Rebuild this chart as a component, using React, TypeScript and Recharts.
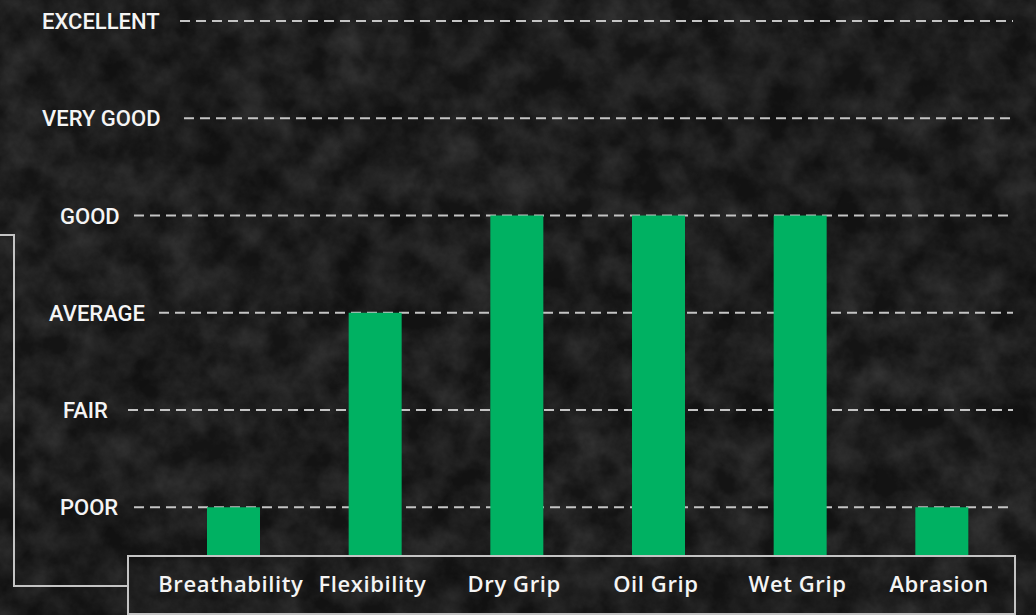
import { BarChart, Bar, XAxis, YAxis, CartesianGrid } from 'recharts';

const CATEGORIES = ['Breathability', 'Flexibility', 'Dry Grip', 'Oil Grip', 'Wet Grip', 'Abrasion'];
const RATINGS = [1, 3, 4, 4, 4, 1];
const LEVEL_LABELS = ['POOR', 'FAIR', 'AVERAGE', 'GOOD', 'VERY GOOD', 'EXCELLENT'];
const LEVEL_TICKS = [1, 2, 3, 4, 5, 6];

const data = CATEGORIES.map((name, i) => ({ name, rating: RATINGS[i] }));

// where each level label starts, and where its dashed line begins
const LABEL_X: Record<string, number> = {
  POOR: 60,
  FAIR: 63,
  AVERAGE: 49,
  GOOD: 60,
  'VERY GOOD': 42,
  EXCELLENT: 42,
};
const LINE_START: Record<string, number> = {
  POOR: 134,
  FAIR: 128,
  AVERAGE: 159,
  GOOD: 134,
  'VERY GOOD': 184,
  EXCELLENT: 180,
};

const W = 1036;
const H = 615;
const GREEN = '#00b162';
const LINE = '#c4c4c4';

interface TickProps {
  x?: number;
  y?: number;
  payload?: { value: number | string };
}

function LevelTick({ y, payload }: TickProps) {
  if (y == null || !payload) return null;
  const label = LEVEL_LABELS[Number(payload.value) - 1];
  return (
    <text
      x={LABEL_X[label]}
      y={y + 8}
      fill="#f4f4f4"
      fontFamily="Roboto, sans-serif"
      fontWeight={500}
      fontSize={22}
      textAnchor="start"
    >
      {label}
    </text>
  );
}

function CategoryTick({ x, y, payload }: TickProps) {
  if (x == null || y == null || !payload) return null;
  return (
    <text
      x={x - 3}
      y={y + 28}
      fill="#f4f4f4"
      fontFamily="'Open Sans', sans-serif"
      fontWeight={600}
      fontSize={22}
      letterSpacing={0.6}
      textAnchor="middle"
    >
      {payload.value}
    </text>
  );
}

function gridLine(props: any) {
  const label = LEVEL_LABELS[props.index];
  if (!label) return <g key={props.key} />;
  return (
    <line
      key={props.key}
      x1={LINE_START[label]}
      x2={1013}
      y1={props.y1}
      y2={props.y2}
      stroke={LINE}
      strokeWidth={2}
      strokeDasharray="10 6"
    />
  );
}

export default function App() {
  return (
    <div style={{ position: 'absolute', left: 0, top: 0, width: W, height: H, background: '#141414', overflow: 'hidden' }}>
      <svg width={W} height={H} style={{ position: 'absolute', left: 0, top: 0 }}>
        <defs>
          <filter id="grunge" x="0" y="0" width="100%" height="100%">
            <feTurbulence type="fractalNoise" baseFrequency="0.03" numOctaves={5} seed={7} />
            <feColorMatrix type="matrix" values="0 0 0 0 1  0 0 0 0 1  0 0 0 0 1  0.22 0 0 0 -0.06" />
          </filter>
          <filter id="shade" x="0" y="0" width="100%" height="100%">
            <feTurbulence type="fractalNoise" baseFrequency="0.007" numOctaves={3} seed={3} />
            <feColorMatrix type="matrix" values="0 0 0 0 0  0 0 0 0 0  0 0 0 0 0  -0.5 0 0 0 0.32" />
          </filter>
        </defs>
        <rect width={W} height={H} filter="url(#grunge)" />
        <rect width={W} height={H} filter="url(#shade)" />
      </svg>
      <div style={{ position: 'absolute', left: 0, top: 0 }}>
        <BarChart width={W} height={H} data={data} margin={{ top: 21, right: 23, bottom: 0, left: 0 }}>
          <CartesianGrid vertical={false} horizontal={gridLine} />
          <XAxis
            dataKey="name"
            height={59}
            axisLine={false}
            tickLine={false}
            tick={<CategoryTick />}
            interval={0}
          />
          <YAxis
            type="number"
            domain={[0.5, 6]}
            ticks={LEVEL_TICKS}
            width={163}
            axisLine={false}
            tickLine={false}
            tick={<LevelTick />}
            interval={0}
          />
          <Bar dataKey="rating" fill={GREEN} barSize={53} isAnimationActive={false} />
        </BarChart>
      </div>
      <svg width={W} height={H} style={{ position: 'absolute', left: 0, top: 0, pointerEvents: 'none' }}>
        <polyline points="0,235 14,235 14,586 128,586" fill="none" stroke={LINE} strokeWidth={2} />
        <rect x={128} y={556} width={887} height={58} fill="none" stroke={LINE} strokeWidth={2} />
      </svg>
    </div>
  );
}
